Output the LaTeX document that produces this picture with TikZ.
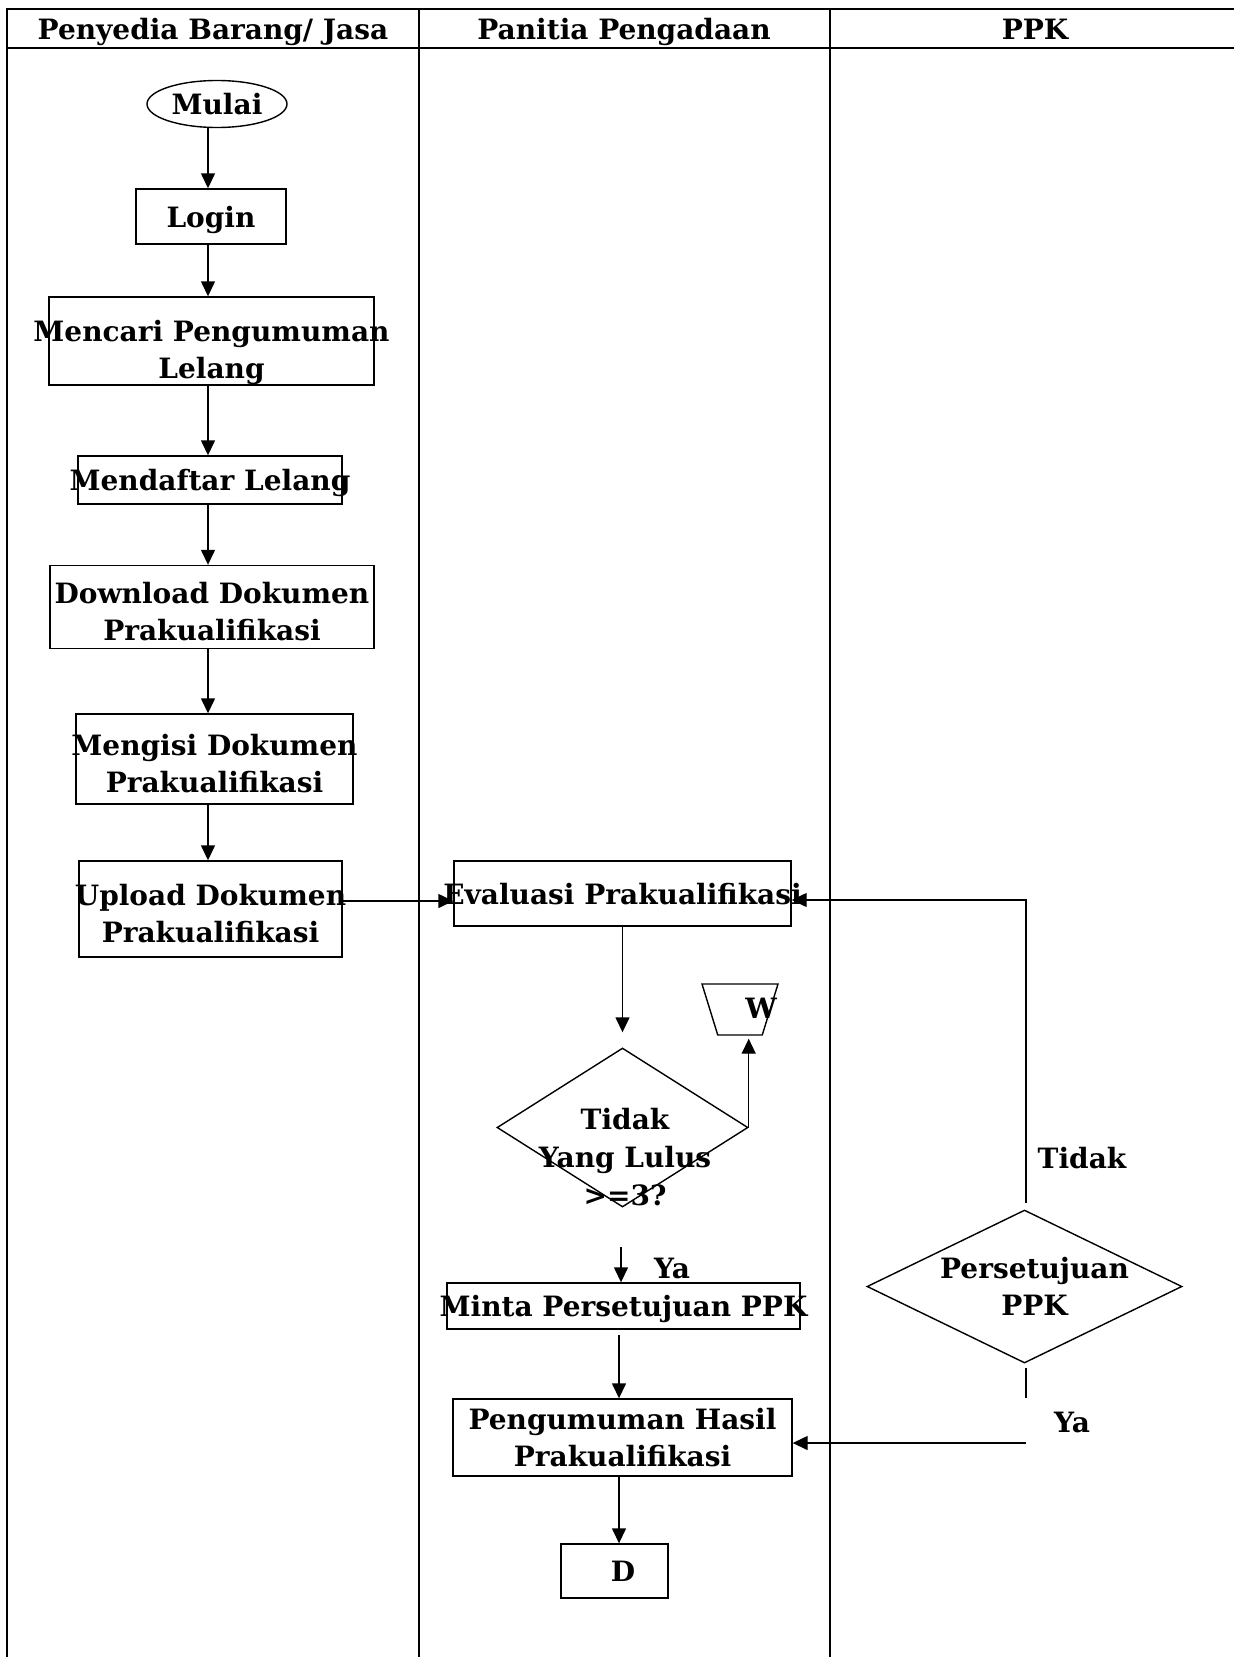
\documentclass[tikz,border=0pt]{standalone}
\usepackage{fontspec}
\setmainfont{DejaVu Serif}
\usetikzlibrary{shapes.geometric,arrows.meta}
% zero-width line so that text may run past a box edge without widening it
\newcommand{\ovtext}[1]{\makebox[0pt]{#1}}

\begin{document}
\begin{tikzpicture}[x=1pt,y=-1pt,
  every node/.style={font=\bfseries\fontsize{28}{37}\selectfont},
  frame/.style={line width=2pt},
  box/.style={draw,rectangle,line width=1.4pt,inner sep=0pt,align=center,text depth=0pt},
  twoline/.style={text height=66pt},
  dec/.style={draw,diamond,line width=1.4pt,inner sep=0pt,align=center},
  flow/.style={line width=1.4pt,-{Triangle[length=15pt,width=14pt]}},
  plain/.style={line width=1.4pt},
  lanehead/.style={text depth=0pt},
]
\useasboundingbox (0,0) rectangle (1234,1657);

% swimlane frame
\draw[frame] (1234,9) -- (7,9) -- (7,1657);
\draw[frame] (7,48) -- (1234,48);
\draw[frame] (419,9) -- (419,1657);
\draw[frame] (830,9) -- (830,1657);

\node[lanehead] (h1) at (213,29) {Penyedia Barang/ Jasa};
\node[lanehead] (h2) at (624,29) {Panitia Pengadaan};
\node[lanehead] (h3) at (1035,29) {PPK};

% lane 1: penyedia
\coordinate (ax) at (208,0);
\node[draw,ellipse,line width=1.4pt,inner sep=0pt,minimum width=140pt,minimum height=47pt] (mulai) at (217,104) {Mulai};
\node[box,minimum width=150pt,minimum height=55pt] (login) at (211,216.5) {Login};
\node[box,minimum width=325pt,minimum height=88pt,text height=75pt] (cari) at (211.5,341) {\ovtext{Mencari Pengumuman}\\\ovtext{Lelang}};
\node[box,minimum width=264pt,minimum height=48pt] (daftar) at (210,480) {\ovtext{Mendaftar Lelang}};
\node[box,twoline,minimum width=324pt,minimum height=83pt] (unduh) at (212,607) {\ovtext{Download Dokumen}\\\ovtext{Prakualifikasi}};
\node[box,twoline,minimum width=277pt,minimum height=90pt] (isi) at (214.5,759) {\ovtext{Mengisi Dokumen}\\\ovtext{Prakualifikasi}};
\node[box,twoline,minimum width=263pt,minimum height=96pt] (unggah) at (210.5,909) {\ovtext{Upload Dokumen}\\\ovtext{Prakualifikasi}};

\draw[flow] (mulai.south -| ax) -- (login.north -| ax);
\draw[flow] (login.south -| ax) -- (cari.north -| ax);
\draw[flow] (cari.south -| ax) -- (daftar.north -| ax);
\draw[flow] (daftar.south -| ax) -- (unduh.north -| ax);
\draw[flow] (unduh.south -| ax) -- (isi.north -| ax);
\draw[flow] (isi.south -| ax) -- (unggah.north -| ax);

% lane 2: panitia
\node[box,minimum width=337pt,minimum height=65pt] (eval) at (622.5,893.5) {\ovtext{Evaluasi Prakualifikasi}};
\coordinate (uy) at (0,901);
\draw[flow] (unggah.east |- uy) -- (eval.west |- uy);

\node[dec,minimum width=251pt,minimum height=159pt] (lulus) at (622.5,1127.5) {};
\node[align=center,font=\bfseries\fontsize{28}{38}\selectfont] (lulustext) at (625,1157) {Tidak\\Yang Lulus\\>=3?};
\draw[flow,shorten >=15pt] (eval.south) -- (lulus.north);

\node[draw,trapezium,shape border rotate=180,trapezium stretches=true,
      trapezium left angle=70.5,trapezium right angle=70.5,line width=1.4pt,inner sep=2pt,
      minimum width=76pt,minimum height=51pt] (wcon) at (740,1009.5) {};
\node (wtext) at (761,1008) {W};
\draw[flow,shorten >=3pt] (lulus.east) -- (lulus.east |- wcon.south);

\coordinate (yastart) at (621,1247);
\node[box,minimum width=353pt,minimum height=46pt] (minta) at (623.5,1306) {\ovtext{Minta Persetujuan PPK}};
\draw[flow] (yastart) -- (yastart |- minta.north);
\node (ya1) at (672,1268) {Ya};

\coordinate (m2) at (619,1335);
\node[box,minimum width=339pt,minimum height=77pt] (hasil) at (622.5,1437.5) {\ovtext{Pengumuman Hasil}\\\ovtext{Prakualifikasi}};
\draw[flow] (m2) -- (m2 |- hasil.north);
\node[box,minimum width=107pt,minimum height=54pt] (akhir) at (614.5,1571) {\ovtext{\hspace{17pt}D}};
\draw[flow] (hasil.south -| m2) -- (akhir.north -| m2);

% lane 3: PPK
\node[dec,minimum width=315pt,minimum height=153pt] (setuju) at (1024.5,1286.5) {\ovtext{\hspace{20pt}Persetujuan}\\\ovtext{\hspace{20pt}PPK}};
\coordinate (tk) at (1026,900);
\draw[flow] ([yshift=6pt]setuju.north -| tk) -- (tk) -- (eval.east |- tk);
\node (tidak2) at (1082,1158) {Tidak};

\coordinate (yb) at (1026,1398);
\draw[plain] ([yshift=-4pt]setuju.south -| tk) -- (yb);
\coordinate (ya2s) at (1026,1443);
\draw[flow] (ya2s) -- (hasil.east |- ya2s);
\node (ya2) at (1072,1422) {Ya};
\end{tikzpicture}
\end{document}
